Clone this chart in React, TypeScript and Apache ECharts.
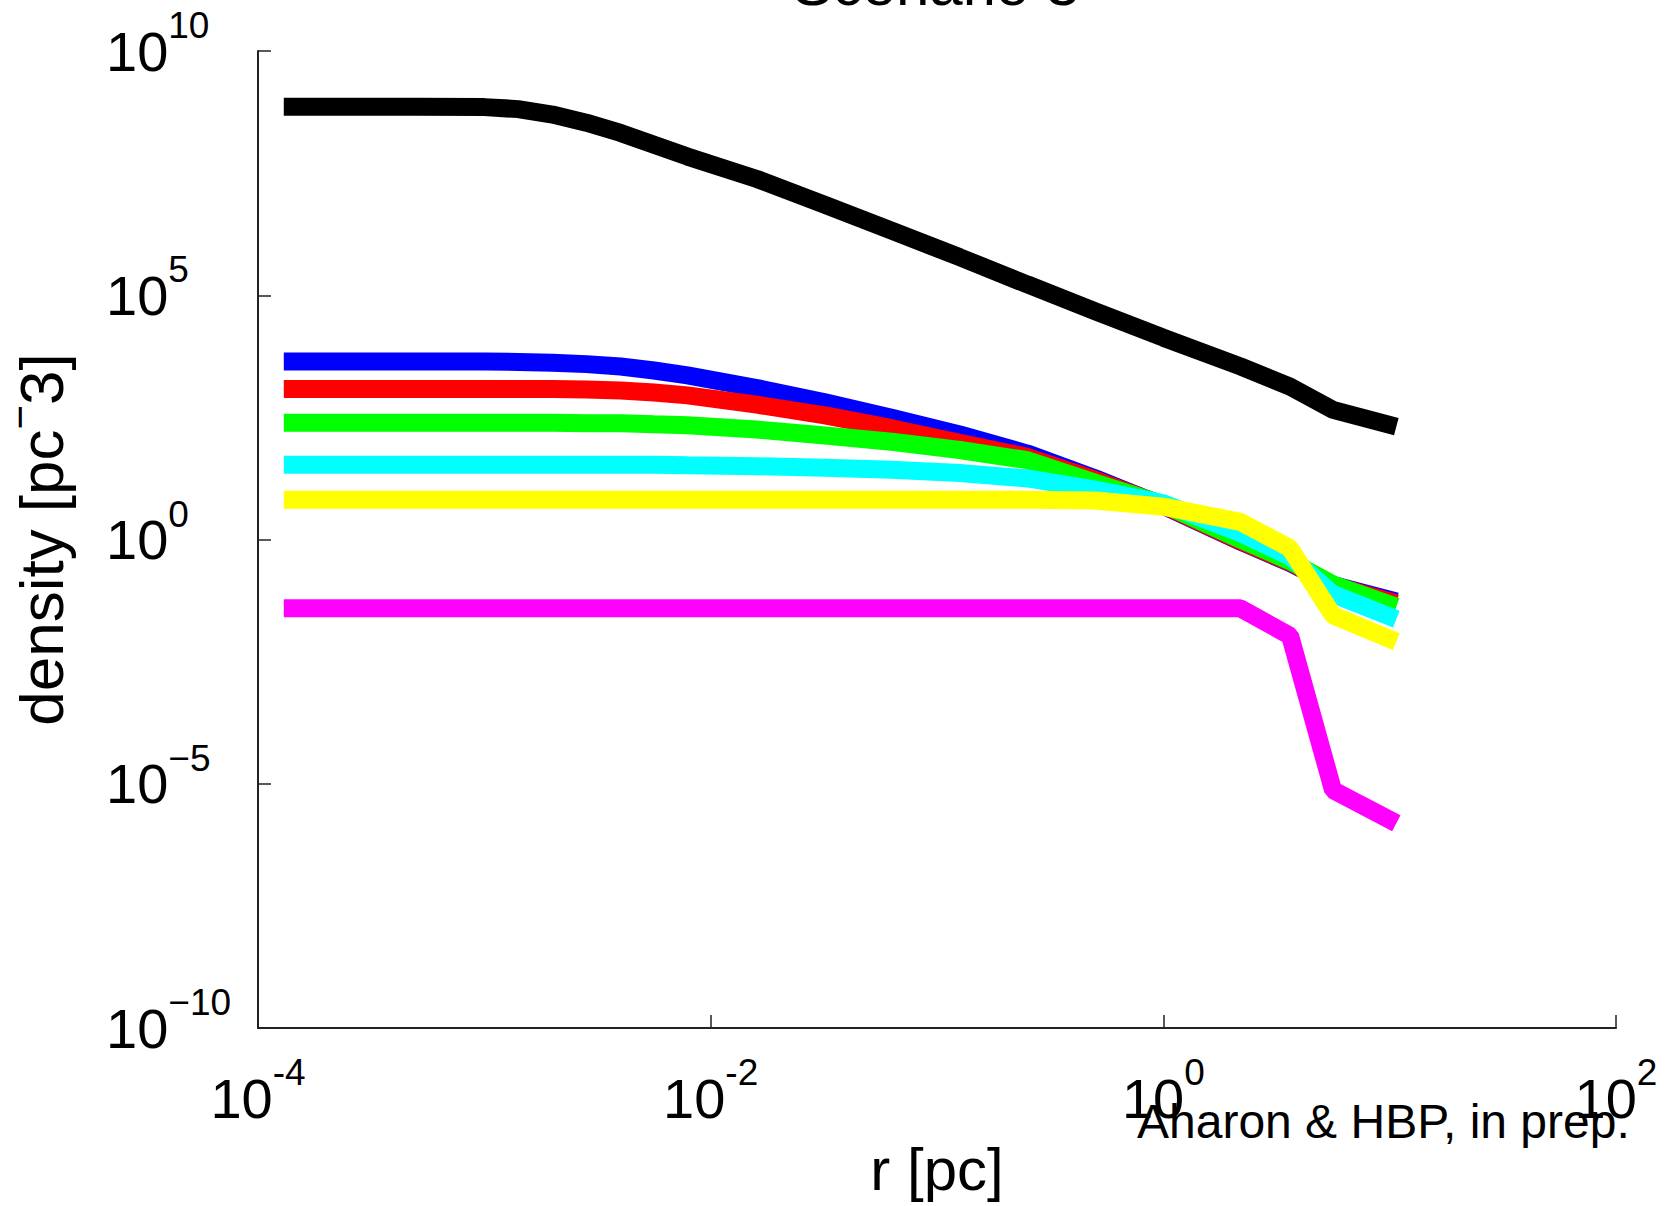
import React, { useEffect, useRef } from "react";
import * as echarts from "echarts";

// radius samples [pc]
const radius = [1.3e-4, 5.0e-4, 1.0e-3, 1.41e-3, 2.0e-3, 2.82e-3, 4.0e-3, 5.62e-3, 7.9e-3, 1.6e-2, 3.2e-2, 6.3e-2, 0.126, 0.251, 0.501, 1.0, 2.19, 3.63, 5.62, 10.7];

// density [pc^-3] per curve
const blackDensity = [7.2e8, 7.2e8, 7.1e8, 6.46e8, 5.0e8, 3.4e8, 2.1e8, 1.2e8, 6.9e7, 2.4e7, 7.1e6, 2.1e6, 6.0e5, 1.66e5, 4.7e4, 1.35e4, 3.5e3, 1.35e3, 450, 204];
const blueDensity = [4.4e3, 4.4e3, 4.4e3, 4.32e3, 4.17e3, 3.89e3, 3.47e3, 2.88e3, 2.29e3, 1.26e3, 646, 310, 141, 57.5, 17.8, 4.9, 0.91, 0.33, 0.117, 0.054];
const redDensity = [1.2e3, 1.2e3, 1.2e3, 1.2e3, 1.2e3, 1.175e3, 1.122e3, 1.023e3, 891, 575, 347, 190, 95, 49, 16.6, 5.0, 0.93, 0.34, 0.117, 0.049];
const greenDensity = [245, 245, 245, 245, 245, 240, 240, 229, 219, 178, 135, 100, 68, 42, 14.5, 5.25, 1.0, 0.36, 0.12, 0.042];
const cyanDensity = [34, 34, 34, 34, 34, 34, 34, 34, 33, 31.6, 29.5, 26.9, 22.9, 17.8, 10.5, 5.5, 1.35, 0.447, 0.076, 0.0234];
const yellowDensity = [6.5, 6.5, 6.5, 6.5, 6.5, 6.5, 6.5, 6.5, 6.5, 6.5, 6.5, 6.5, 6.5, 6.5, 6.3, 4.7, 2.3, 0.66, 0.028, 0.0081];
const magentaDensity = [0.039, 0.039, 0.039, 0.039, 0.039, 0.039, 0.039, 0.039, 0.039, 0.039, 0.039, 0.039, 0.039, 0.039, 0.039, 0.039, 0.039, 0.0107, 7.4e-6, 1.55e-6];

const curves = [
  { name: "black", color: "#000000", values: blackDensity },
  { name: "blue", color: "#0000ff", values: blueDensity },
  { name: "red", color: "#ff0000", values: redDensity },
  { name: "green", color: "#00ff00", values: greenDensity },
  { name: "cyan", color: "#00ffff", values: cyanDensity },
  { name: "yellow", color: "#ffff00", values: yellowDensity },
  { name: "magenta", color: "#ff00ff", values: magentaDensity },
];

// axis ticks (exponents of 10)
const xTickExponents = { min: -4, max: 2, step: 2 };
const yTickExponents = { min: -10, max: 10, step: 5 };

const titleText = "Scenario 3";
const xName = "r [pc]";
const creditText = "Aharon & HBP, in prep.";

const REG = "'Liberation Sans', Arial, Helvetica, sans-serif";

const tickRich = {
  b: { fontSize: 56, fontFamily: REG, color: "#000", padding: [16, 0, 16, 0] },
  s: { fontSize: 37, fontFamily: REG, color: "#000", verticalAlign: "top" },
};

export default function App() {
  const ref = useRef<HTMLDivElement>(null);
  useEffect(() => {
    if (!ref.current) return;
    const chart = echarts.init(ref.current, undefined, { renderer: "svg" });
    const option: any = {
      animation: false,
      backgroundColor: "#ffffff",
      grid: { left: 258, right: 62, top: 51, bottom: 178, containLabel: false, outerBoundsMode: "none" },
      xAxis: {
        type: "value",
        min: xTickExponents.min,
        max: xTickExponents.max,
        interval: xTickExponents.step,
        splitLine: { show: false },
        axisLine: { show: true, onZero: false, lineStyle: { color: "#222", width: 2 } },
        axisTick: { show: true, inside: true, length: 13, lineStyle: { color: "#222", width: 1.5 } },
        axisLabel: {
          show: true,
          margin: 26,
          showMinLabel: true,
          showMaxLabel: true,
          fontFamily: REG,
          fontSize: 56,
          color: "#000",
          formatter: (v: number) => `{b|10}{s|${v}}`,
          rich: tickRich,
        },
        name: xName,
        nameLocation: "middle",
        nameGap: 111,
        nameTextStyle: { fontSize: 60, fontFamily: REG, color: "#000" },
      },
      yAxis: {
        type: "value",
        min: yTickExponents.min,
        max: yTickExponents.max,
        interval: yTickExponents.step,
        splitLine: { show: false },
        axisLine: { show: true, onZero: false, lineStyle: { color: "#222", width: 2 } },
        axisTick: { show: true, inside: true, length: 13, lineStyle: { color: "#222", width: 1.5 } },
        axisLabel: {
          show: true,
          margin: 152,
          align: "left",
          showMinLabel: true,
          showMaxLabel: true,
          fontFamily: REG,
          fontSize: 56,
          color: "#000",
          formatter: (v: number) => `{b|10}{s|${v < 0 ? "\u2212" + Math.abs(v) : v}}`,
          rich: tickRich,
        },
        name: "{a|density [pc}{s|\u2212}{a|3]}",
        nameLocation: "middle",
        nameGap: 186,
        nameTextStyle: {
          fontSize: 62,
          fontFamily: REG,
          color: "#000",
          rich: {
            a: { fontSize: 62, fontFamily: REG, color: "#000", padding: [12, 0, 0, 0], verticalAlign: "bottom" },
            s: { fontSize: 42, fontFamily: REG, color: "#000", verticalAlign: "top" },
          },
        },
      },
      series: curves.map((c) => ({
        name: c.name,
        type: "line",
        showSymbol: false,
        symbol: "none",
        silent: true,
        lineStyle: { color: c.color, width: 18 },
        itemStyle: { color: c.color },
        data: radius.map((r, i) => [Math.log10(r), Math.log10(c.values[i])]),
      })),
      graphic: [
        {
          type: "text",
          x: 936,
          y: -16,
          style: { text: titleText, fontSize: 60, fontFamily: REG, fill: "#000", align: "center", verticalAlign: "middle" },
        },
        {
          type: "text",
          x: 1137,
          y: 1121,
          z: 100,
          style: { text: creditText, fontSize: 48, fontFamily: REG, fill: "#000", align: "left", verticalAlign: "middle" },
        },
      ],
    };
    chart.setOption(option);
    return () => chart.dispose();
  }, []);
  return (
    <div
      ref={ref}
      style={{ position: "absolute", left: 0, top: 0, width: 1678, height: 1206, background: "#fff" }}
    />
  );
}
